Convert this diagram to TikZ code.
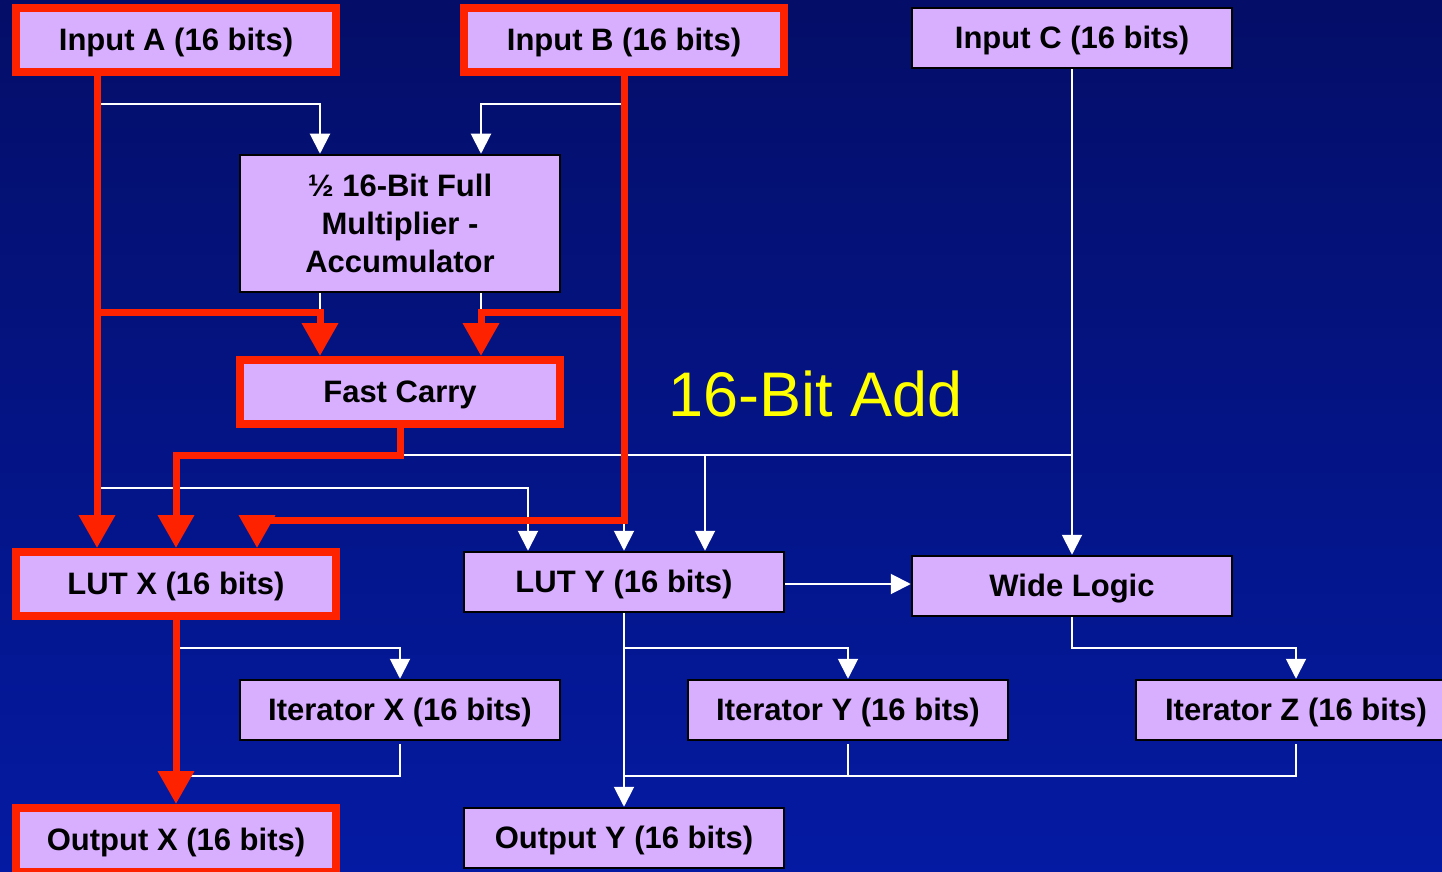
\documentclass[tikz,border=0pt]{standalone}
\usepackage{fontspec}
\setmainfont{Liberation Sans}
\usetikzlibrary{arrows.meta}
\definecolor{lilac}{RGB}{216,174,255}
\definecolor{bred}{RGB}{255,34,0}
\definecolor{bgtop}{RGB}{4,14,104}
\definecolor{bgbot}{RGB}{4,26,162}
\definecolor{ylw}{RGB}{255,255,0}
\begin{document}
\begin{tikzpicture}[x=0.5pt,y=-0.5pt,
  boxbase/.style={draw=black, line width=1.25pt, fill=lilac, minimum width=160pt,
    minimum height=30pt, inner sep=0pt, align=center,
    font=\fontsize{15.5}{19}\selectfont\bfseries},
  box/.style={boxbase, text height=13.5pt, text depth=3pt},
  rbox/.style={box, draw=bred, line width=4pt, minimum height=32pt},
  wplain/.style={draw=white, line width=1pt},
  wline/.style={wplain, -{Triangle[width=10pt,length=10pt]}},
  rplain/.style={draw=bred, line width=3.5pt, line join=miter},
  rline/.style={rplain, -{Triangle[width=17.5pt,length=16.5pt]}}]
\useasboundingbox (0,0) rectangle (1442,872);
\clip (0,0) rectangle (1442,872);
\shade[top color=bgtop, bottom color=bgbot] (0,0) rectangle (1442,872);

% nodes
\node[rbox] (A) at (176,40) {Input A (16 bits)};
\node[rbox] (B) at (624,40) {Input B (16 bits)};
\node[box] (C) at (1072,38) {Input C (16 bits)};
\node[boxbase, minimum height=68.5pt] (M) at (400,223.5) {\raisebox{-1pt}{½ 16-Bit Full}\\\raisebox{-1pt}{Multiplier -}\\\raisebox{-1pt}{Accumulator}};
\node[rbox] (FC) at (400,392) {Fast Carry};
\node[rbox] (LX) at (176,584) {LUT X (16 bits)};
\node[box] (LY) at (624,582) {LUT Y (16 bits)};
\node[box] (WL) at (1072,586) {Wide Logic};
\node[box] (IX) at (400,710) {Iterator X (16 bits)};
\node[box] (IY) at (848,710) {Iterator Y (16 bits)};
\node[box] (IZ) at (1296,710) {Iterator Z (16 bits)};
\node[rbox] (OX) at (176,840) {Output X (16 bits)};
\node[box] (OY) at (624,838) {Output Y (16 bits)};
\node[text=ylw, font=\fontsize{31.5}{36}\selectfont] (T) at (816,394) {16-Bit Add};

% lanes and junctions
\coordinate (ax) at (97,0);
\coordinate (xm1) at (320,0);
\coordinate (xm2) at (481,0);
\coordinate (xly1) at (528,0);
\coordinate (xly3) at (705,0);
\coordinate (xgb) at (257,0);
\coordinate (ja1) at (97,104);
\coordinate (jb1) at (624,104);
\coordinate (ja2) at (97,312);
\coordinate (jb2) at (624,312);
\coordinate (ja3) at (97,488);
\coordinate (jb3) at (624,520);
\coordinate (jf) at (400,455);
\coordinate (jc) at (1072,455);
\coordinate (jx1) at (176,648);
\coordinate (jx2) at (176,776);
\coordinate (jy1) at (624,648);
\coordinate (jy2) at (624,776);
\coordinate (jw) at (1072,648);

% white connectors
\draw[wline] (ja1) -| (M.north -| xm1);
\draw[wline] (jb1) -| (M.north -| xm2);
\draw[wplain] (M.south -| xm1) -- (ja2 -| xm1);
\draw[wplain] (M.south -| xm2) -- (jb2 -| xm2);
\draw[wline] (C.south) -- (WL.north);
\draw[wplain] (jf) -- (jc);
\draw[wline] (jf -| xly3) -- (LY.north -| xly3);
\draw[wline] (ja3) -| (LY.north -| xly1);
\draw[wline] (jb3) -- (LY.north);
\draw[wline] ([yshift=-1pt]LY.east) -- ([yshift=-1pt]LY.east -| WL.west);
\draw[wline] (jx1) -| (IX.north);
\draw[wplain] ([yshift=-1.5pt]IX.south) |- (jx2);
\draw[wline] (LY.south) -- (OY.north);
\draw[wline] (jy1) -| (IY.north);
\draw[wline] (WL.south) -- (jw) -| (IZ.north);
\draw[wplain] ([yshift=-1.5pt]IY.south) -- (IY.south |- jy2);
\draw[wplain] ([yshift=-1.5pt]IZ.south) |- (jy2);

% red connectors
\draw[rline] (A.south -| ax) -- (LX.north -| ax);
\draw[rline] (ja2) -| (FC.north -| xm1);
\draw[rline] (B.south) -- (jb3) -| (LX.north -| xgb);
\draw[rline] (jb2) -| (FC.north -| xm2);
\draw[rline] (FC.south) -- (jf) -| (LX.north);
\draw[rline] (LX.south) -- (OX.north);
\end{tikzpicture}
\end{document}
